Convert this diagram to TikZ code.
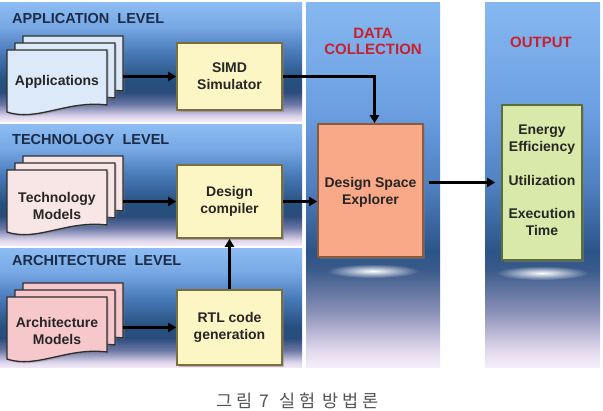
\documentclass[tikz,border=0pt]{standalone}
\usepackage{fontspec}
\setmainfont{Liberation Sans}
\newfontfamily\krfont[LetterSpace=20]{Noto Sans CJK KR}
\usetikzlibrary{arrows.meta,shadows,fadings,calc}

\definecolor{lp0}{HTML}{8CBCF2}
\definecolor{lp1}{HTML}{78A8E4}
\definecolor{lp2}{HTML}{4B7CBC}
\definecolor{lp3}{HTML}{26507F}
\definecolor{lp4}{HTML}{2A4C7C}
\definecolor{lp5}{HTML}{6A76A4}
\definecolor{lp6}{HTML}{DCD4EA}
\definecolor{lp7}{HTML}{F6ECF8}
\definecolor{dp0}{HTML}{86B8F0}
\definecolor{dp1}{HTML}{6A9EE0}
\definecolor{dp2}{HTML}{4F80C0}
\definecolor{dp3}{HTML}{2C5488}
\definecolor{dp4}{HTML}{3A5A8A}
\definecolor{dp5}{HTML}{8C92B8}
\definecolor{dp6}{HTML}{E0D8EC}
\definecolor{dp7}{HTML}{F8EEFA}
\definecolor{headblue}{HTML}{1C2C48}
\definecolor{headred}{HTML}{C8202C}
\definecolor{yelfill}{HTML}{FCF5C4}
\definecolor{yeldraw}{HTML}{7A6E3C}
\definecolor{salfill}{HTML}{F9A888}
\definecolor{saldraw}{HTML}{8A5A3A}
\definecolor{grnfill}{HTML}{D9E9A9}
\definecolor{grndraw}{HTML}{5E6E34}
\definecolor{appfill}{HTML}{DCE9F8}
\definecolor{techfill}{HTML}{F8E6E6}
\definecolor{archfill}{HTML}{F6C8CC}
\definecolor{txtdark}{HTML}{262626}
\definecolor{capgray}{HTML}{555555}

\pgfdeclareverticalshading{leftpanel}{100bp}{color(0bp)=(lp7); color(25bp)=(lp7); color(27.5bp)=(lp6); color(32.5bp)=(lp5); color(37.5bp)=(lp4); color(42.5bp)=(lp3); color(55bp)=(lp2); color(65bp)=(lp1); color(75bp)=(lp0); color(100bp)=(lp0)}
\pgfdeclareverticalshading{rightpanel}{100bp}{color(0bp)=(dp7); color(25bp)=(dp7); color(27.5bp)=(dp6); color(32.5bp)=(dp5); color(38.5bp)=(dp4); color(41bp)=(dp3); color(50bp)=(dp2); color(60bp)=(dp1); color(75bp)=(dp0); color(100bp)=(dp0)}
\tikzfading[name=softglow, inner color=transparent!0, outer color=transparent!100]

\tikzset{
  lpanel/.style={shading=leftpanel, draw=none},
  rpanel/.style={shading=rightpanel, draw=none},
  heading/.style={font=\bfseries\fontsize{14.5}{16}\selectfont, text=headblue, anchor=base west, inner sep=0},
  redhead/.style={font=\bfseries\fontsize{15}{17}\selectfont, text=headred, align=center, inner sep=0},
  procbox/.style={draw=yeldraw, fill=yelfill, line width=1.6pt, minimum width=105pt,
     font=\bfseries\fontsize{14}{17}\selectfont, text=txtdark, align=center, inner sep=0,
     drop shadow={shadow xshift=2pt, shadow yshift=-2pt, opacity=0.45}},
  doctext/.style={font=\bfseries\fontsize{14}{17}\selectfont, text=txtdark, align=center, inner sep=0},
  outtext/.style={font=\bfseries\fontsize{14}{17}\selectfont, text=txtdark, align=center, inner sep=0},
  docpage/.style={draw=black!82, line width=1.3pt,
     drop shadow={shadow xshift=1.5pt, shadow yshift=-1.5pt, opacity=0.4}},
  holder/.style={draw=none, inner sep=0, minimum width=116pt, minimum height=78pt},
  arr/.style={line width=2.6pt, -{Triangle[length=8pt,width=9pt]}},
  glow/.style={fill=white, path fading=softglow},
  pics/docstack/.style={code={
    \foreach \dx/\dy in {16/-14, 8/-7, 0/0}{
      \path[docpage, fill=#1, shift={(\dx,\dy)}] (0,0) -- (100,0) -- (100,55)
        .. controls (60,50) and (30,72) .. (0,62) -- cycle;
    }
  }}
}

\begin{document}
\begin{tikzpicture}[x=1pt,y=-1pt]
\useasboundingbox (0,0) rectangle (603,411);
\fill[white] (0,0) rectangle (603,411);

% panels
\path[lpanel] (0,3) rectangle (302,122);
\path[lpanel] (0,125) rectangle (302,246);
\path[lpanel] (0,249) rectangle (302,368);
\path[rpanel] (306,3) rectangle (440,368);
\path[rpanel] (485,3) rectangle (600,368);

% glows
\path[glow] (373,271) ellipse [x radius=46pt, y radius=7pt];
\path[glow] (542,273) ellipse [x radius=46pt, y radius=7pt];

% headings
\node[heading] (happ) at (12,24) {APPLICATION\ \ LEVEL};
\node[heading] (htech) at (12,145) {TECHNOLOGY\ \ LEVEL};
\node[heading] (harch) at (12,266) {ARCHITECTURE\ \ LEVEL};
\node[redhead] (hdata) at (373,41) {DATA\\[-1pt]COLLECTION};
\node[redhead] (hout) at (541,42.5) {OUTPUT};

% document stacks
\pic at (7,50) {docstack=appfill};
\pic at (7,170) {docstack=techfill};
\pic at (7,297) {docstack=archfill};
\node[holder] (appdoc) at (65,76) {};
\node[holder] (techdoc) at (65,198) {};
\node[holder] (archdoc) at (65,325) {};
\node[doctext] (appt) at (57,82) {Applications};
\node[doctext] (techt) at (57,206) {Technology\\Models};
\node[doctext] (archt) at (57,331) {Architecture\\Models};

% process boxes
\node[procbox, minimum height=67pt] (sim) at (229.5,76.5) {SIMD\\Simulator};
\node[procbox, minimum height=73pt] (dc) at (229.5,201.5) {Design\\compiler};
\node[procbox, minimum height=75pt] (rtl) at (229.5,327.5) {RTL code\\generation};
\node[procbox, draw=saldraw, fill=salfill, minimum width=105pt, minimum height=133pt] (dse) at (370.5,190.5) {};
\node[outtext] (dset) at (370.5,192) {Design Space\\Explorer};
\node[procbox, draw=grndraw, fill=grnfill, minimum width=80pt, minimum height=155pt] (out) at (542,182.5) {};
\node[outtext] (outa) at (542,140) {Energy\\Efficiency};
\node[outtext] (outb) at (542,180.5) {Utilization};
\node[outtext] (outc) at (542,221.5) {Execution\\Time};

% connectors
\draw[arr] (appdoc.east |- sim.west) -- (sim.west);
\draw[arr] (techdoc.east |- dc.west) -- (dc.west);
\draw[arr] (archdoc.east |- rtl.west) -- (rtl.west);
\draw[arr] (rtl.north) -- (dc.south);
\draw[arr] (sim.east) -| ([xshift=4pt]dse.north);
\draw[arr] (dc.east) -- (dc.east -| dse.west);
\draw[arr, shorten <=5pt, shorten >=6pt] (dse.east |- out.west) -- (out.west);

% caption
\node[font=\krfont\fontsize{17.5}{20}\selectfont, text=capgray, inner sep=0, anchor=south] (cap) at (297.5,409.5) {그림 7\hspace{10pt}실험 방법론};
\end{tikzpicture}
\end{document}
